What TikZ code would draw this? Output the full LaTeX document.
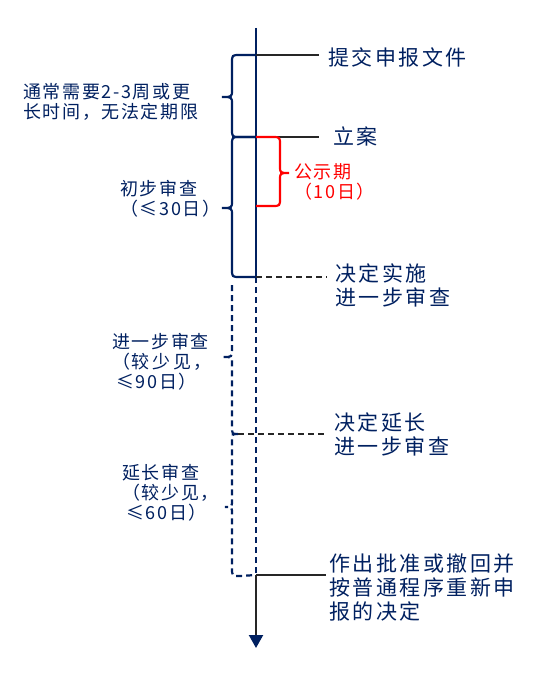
\documentclass[tikz,border=0pt]{standalone}
\usepackage{fontspec}
\newfontfamily\cjk[LetterSpace=12]{Noto Sans CJK SC}
\newfontfamily\cjks[LetterSpace=9]{Noto Sans CJK SC}
\usetikzlibrary{arrows.meta}
\definecolor{navy}{RGB}{0,32,96}

\begin{document}
\begin{tikzpicture}[x=1pt, y=-1pt, >=Stealth,
    axis/.style={navy, line width=2.2pt},
    tick/.style={black!85, line width=1.7pt},
    dsh/.style={dash pattern=on 6pt off 4pt},
    tbrace/.style={navy, line width=2.2pt},
    lbl/.style={anchor=west, align=left, inner sep=0pt, text=navy, font=\cjk\fontsize{21}{24}\selectfont},
    side/.style={anchor=west, align=left, inner sep=0pt, text=navy, font=\cjks\fontsize{18}{20}\selectfont}]
    \useasboundingbox (0,0) rectangle (540,674);

    % Points on the time axis
    \coordinate (top) at (256,28);
    \coordinate (a1) at (256,55);
    \coordinate (a2) at (256,137);
    \coordinate (pe) at (256,206);
    \coordinate (a3) at (256,277);
    \coordinate (b4) at (238,434);
    \coordinate (a4) at (256,434);
    \coordinate (a5) at (256,575);
    \coordinate (end) at (256,648);

    % Events on the right
    \node[lbl] (submit) at (328,57) {提交申报文件};
    \node[lbl] (case) at (333,136) {立案};
    \node[lbl] (go) at (335,285) {决定实施\\进一步审查};
    \node[lbl] (extend) at (334,434) {决定延长\\进一步审查};
    \node[lbl] (decide) at (329,587) {作出批准或撤回并\\按普通程序重新申\\报的决定};

    % Periods on the left
    \node[side] (wait) at (23,102) {通常需要2-3周或更\\长时间，无法定期限};
    \node[side] (first) at (120,199) {初步审查\\（≤30日）};
    \node[side] (further) at (112,362) {进一步审查\\（较\,少\,见，\\\hspace*{4pt}≤90日）};
    \node[side] (longer) at (122,493) {延长审查\\（较少见，\\\hspace*{4pt}≤60日）};
    \node[side, text=red] (pub) at (294,182) {公示期\\（10日）};

    % Time axis
    \draw[axis] (top) -- (a3);
    \draw[axis, dsh] (a3) -- (a5);
    \draw[black!85, line width=2.2pt, -{Triangle[width=14pt, length=13pt, color=navy]}] (a5) -- (end);

    % Connectors to the events
    \draw[tick, shorten >=9pt] (a1) -- (a1 -| submit.west);
    \draw[tick, shorten >=14pt] (a2) -- (a2 -| case.west);
    \draw[tick, dsh, shorten >=8pt] (a3) -- (a3 -| go.west);
    \draw[tick, dsh, shorten >=7pt] (b4) -- (b4 -| extend.west);
    \draw[tick, shorten >=3pt] (a5) -- (a5 -| decide.west);

    % Braces
    \draw[tbrace] (a1) -- (240,55) .. controls (232,55) .. (232,63) -- (232,90) .. controls (232,97) .. (222,97) .. controls (232,97) .. (232,104) -- (232,129) .. controls (232,137) .. (240,137) -- (a2);
    \draw[tbrace] (a2) -- (240,137) .. controls (232,137) .. (232,145) -- (232,201) .. controls (232,208) .. (222,208) .. controls (232,208) .. (232,215) -- (232,269) .. controls (232,277) .. (240,277) -- (a3);
    \draw[tbrace, dsh] (232,285) -- (232,350) .. controls (232,357) .. (223,357) .. controls (232,357) .. (232,364) -- (232,426) .. controls (232,434) .. (b4);
    \draw[tbrace, dsh] (b4) .. controls (232,434) .. (232,442) -- (232,500) .. controls (232,507) .. (225,507) .. controls (232,507) .. (232,514) -- (232,568) .. controls (232,576) .. (240,576) -- (a5);
    \draw[red, line width=2.2pt] (a2) -- (272,137) .. controls (280,137) .. (280,145) -- (280,166) .. controls (280,173) .. (289,173) .. controls (280,173) .. (280,180) -- (280,198) .. controls (280,206) .. (272,206) -- (pe);
\end{tikzpicture}
\end{document}
